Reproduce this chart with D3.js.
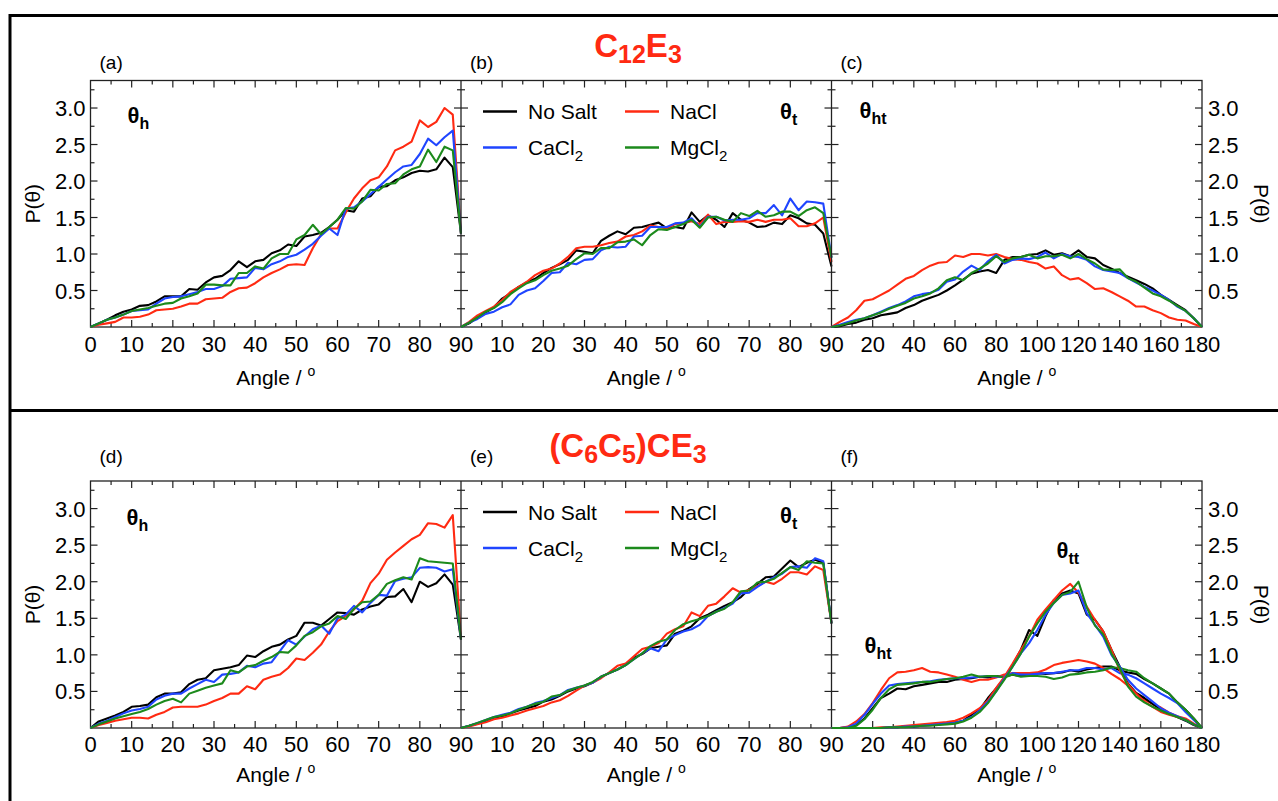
<!DOCTYPE html>
<html>
<head>
<meta charset="utf-8">
<script src="https://cdn.jsdelivr.net/npm/d3@7"></script>
<style>
  body { margin: 0; background: #fff; }
  svg { display: block; font-family: "Liberation Sans", Arial, Helvetica, sans-serif; }
</style>
</head>
<body>
<div id="chart"></div>
<script>
// ---- data ----
const seriesNames = ["No Salt", "NaCl", "CaCl2", "MgCl2"];
const seriesColors = ["#000000", "#ff2a12", "#1f45ff", "#1c8a1c"];

const angles90 = [0, 2, 4, 6, 8, 10, 12, 14, 16, 18, 20, 22, 24, 26, 28, 30, 32, 34, 36, 38, 40, 42, 44, 46, 48, 50, 52, 54, 56, 58, 60, 62, 64, 66, 68, 70, 72, 74, 76, 78, 80, 82, 84, 86, 88, 90];
const angles180 = [0, 4, 8, 12, 16, 20, 24, 28, 32, 36, 40, 44, 48, 52, 56, 60, 64, 68, 72, 76, 80, 84, 88, 92, 96, 100, 104, 108, 112, 116, 120, 124, 128, 132, 136, 140, 144, 148, 152, 156, 160, 164, 168, 172, 176, 180];

const yLabelTicks = [0.5, 1.0, 1.5, 2.0, 2.5, 3.0];
const xLabelsFirst = [0, 10, 20, 30, 40, 50, 60, 70, 80, 90];
const xLabelsSecond = [10, 20, 30, 40, 50, 60, 70, 80, 90];
const xLabelsWide = [20, 40, 60, 80, 100, 120, 140, 160, 180];

// (a) C12E3, theta_h
const aNoSalt = [0, .05, .10, .16, .21, .24, .29, .30, .35, .42, .42, .42, .52, .51, .61, .68, .70, .78, .90, .82, .90, .92, 1.01, 1.05, 1.13, 1.11, 1.24, 1.26, 1.29, 1.37, 1.47, 1.60, 1.58, 1.76, 1.79, 1.92, 1.93, 2.01, 2.05, 2.11, 2.14, 2.13, 2.16, 2.32, 2.19, 1.28];
const aNaCl = [0, .03, .05, .07, .13, .13, .14, .17, .23, .24, .25, .28, .32, .32, .38, .39, .40, .48, .53, .54, .60, .68, .74, .79, .85, .86, .85, 1.08, 1.27, 1.35, 1.35, 1.57, 1.76, 1.90, 2.01, 2.05, 2.20, 2.42, 2.47, 2.54, 2.83, 2.74, 2.81, 3.00, 2.91, 1.28];
const aCaCl2 = [0, .05, .10, .13, .17, .22, .23, .24, .32, .39, .41, .42, .45, .48, .52, .52, .56, .66, .67, .68, .81, .79, .86, .90, .96, .99, 1.06, 1.14, 1.25, 1.35, 1.26, 1.62, 1.64, 1.72, 1.82, 1.92, 2.02, 2.12, 2.20, 2.22, 2.37, 2.58, 2.49, 2.60, 2.69, 1.28];
const aMgCl2 = [0, .05, .10, .13, .17, .22, .24, .26, .29, .32, .33, .39, .42, .46, .58, .58, .57, .57, .74, .74, .83, .80, .94, 1.00, 1.00, 1.20, 1.26, 1.40, 1.27, 1.37, 1.47, 1.63, 1.62, 1.72, 1.88, 1.87, 1.96, 1.97, 2.09, 2.16, 2.20, 2.43, 2.26, 2.47, 2.42, 1.28];

// (b) C12E3, theta_t
const bNoSalt = [0, .05, .13, .20, .27, .39, .46, .55, .61, .66, .74, .81, .86, .92, 1.05, 1.03, 1.01, 1.18, 1.25, 1.31, 1.27, 1.36, 1.37, 1.40, 1.43, 1.35, 1.37, 1.35, 1.57, 1.44, 1.53, 1.47, 1.37, 1.56, 1.47, 1.43, 1.37, 1.38, 1.43, 1.41, 1.53, 1.49, 1.42, 1.40, 1.28, .83];
const bNaCl = [0, .07, .16, .22, .28, .37, .48, .55, .62, .71, .77, .80, .87, .96, 1.08, 1.10, 1.10, 1.12, 1.15, 1.17, 1.24, 1.26, 1.31, 1.39, 1.37, 1.35, 1.41, 1.42, 1.45, 1.41, 1.54, 1.41, 1.44, 1.44, 1.45, 1.44, 1.47, 1.44, 1.47, 1.47, 1.49, 1.38, 1.38, 1.42, 1.50, .89];
const bCaCl2 = [0, .06, .11, .18, .21, .27, .31, .44, .50, .53, .63, .74, .75, .88, .86, .92, .93, 1.05, 1.10, 1.09, 1.10, 1.24, 1.25, 1.37, 1.37, 1.37, 1.42, 1.43, 1.49, 1.37, 1.51, 1.51, 1.46, 1.47, 1.47, 1.49, 1.56, 1.56, 1.67, 1.53, 1.76, 1.60, 1.72, 1.71, 1.69, .95];
const bMgCl2 = [0, .06, .13, .21, .26, .34, .45, .53, .60, .64, .71, .77, .80, .84, .93, 1.01, 1.00, 1.08, 1.08, 1.16, 1.17, 1.20, 1.12, 1.26, 1.34, 1.33, 1.37, 1.41, 1.47, 1.36, 1.50, 1.51, 1.47, 1.44, 1.56, 1.52, 1.59, 1.51, 1.53, 1.58, 1.58, 1.52, 1.60, 1.64, 1.56, .95];

// (c) C12E3, theta_ht
const cNoSalt = [0, .01, .04, .06, .10, .12, .16, .18, .20, .26, .30, .36, .40, .44, .50, .57, .65, .73, .76, .78, .74, .92, .96, .96, .99, 1.00, 1.05, .99, 1.01, .97, 1.05, .96, .94, .85, .80, .74, .69, .64, .59, .53, .44, .37, .30, .23, .12, 0];
const cNaCl = [0, .07, .13, .23, .36, .38, .44, .50, .58, .66, .70, .78, .84, .88, .89, .98, .96, 1.00, 1.00, .98, 1.00, .96, .93, .92, .89, .87, .80, .83, .71, .65, .67, .60, .52, .53, .48, .42, .36, .28, .28, .23, .19, .13, .10, .09, .04, 0];
const cCaCl2 = [0, .03, .07, .10, .12, .16, .21, .26, .30, .35, .42, .45, .47, .51, .62, .65, .76, .84, .78, .90, .99, .87, .92, .94, .93, .96, 1.02, .94, 1.00, .97, .96, .92, .83, .78, .76, .74, .67, .61, .55, .50, .44, .37, .28, .22, .12, 0];
const cMgCl2 = [0, .02, .05, .09, .12, .16, .20, .25, .29, .33, .39, .42, .46, .53, .64, .68, .64, .74, .80, .87, .97, .89, .94, .96, .99, .94, .97, .97, .99, .94, 1.00, .93, .87, .79, .78, .79, .67, .62, .54, .46, .42, .36, .29, .22, .12, 0];

// (d) (C6C5)CE3, theta_h
const dNoSalt = [0, .09, .13, .17, .22, .29, .30, .32, .42, .47, .47, .49, .60, .66, .68, .79, .81, .83, .86, .99, .97, 1.05, 1.11, 1.14, 1.21, 1.26, 1.44, 1.44, 1.40, 1.49, 1.58, 1.57, 1.55, 1.62, 1.66, 1.69, 1.79, 1.80, 1.90, 1.72, 2.00, 1.93, 1.98, 2.10, 1.96, 1.21];
const dNaCl = [0, .04, .07, .10, .12, .14, .14, .13, .18, .22, .28, .29, .29, .29, .32, .37, .41, .47, .47, .57, .53, .66, .70, .73, .82, .95, .93, 1.03, 1.14, 1.32, 1.46, 1.53, 1.62, 1.74, 1.98, 2.11, 2.30, 2.40, 2.49, 2.58, 2.64, 2.80, 2.79, 2.74, 2.91, 1.21];
const dCaCl2 = [0, .06, .10, .15, .20, .24, .26, .29, .39, .44, .47, .47, .54, .60, .66, .63, .73, .74, .76, .85, .83, .88, .90, 1.05, 1.20, 1.14, 1.25, 1.35, 1.40, 1.29, 1.50, 1.55, 1.67, 1.58, 1.71, 1.82, 1.81, 2.01, 2.04, 2.06, 2.19, 2.20, 2.19, 2.14, 2.17, 1.21];
const dMgCl2 = [0, .05, .09, .13, .16, .19, .22, .26, .32, .37, .40, .35, .47, .51, .55, .58, .61, .79, .76, .84, .86, .92, .97, 1.04, 1.03, 1.13, 1.26, 1.31, 1.39, 1.43, 1.53, 1.49, 1.63, 1.72, 1.73, 1.82, 1.97, 2.02, 2.06, 2.03, 2.32, 2.28, 2.27, 2.26, 2.25, 1.21];

// (e) (C6C5)CE3, theta_t
const eNoSalt = [0, .03, .06, .10, .14, .16, .20, .24, .27, .30, .36, .39, .44, .50, .54, .57, .62, .70, .75, .80, .86, .96, 1.01, 1.09, 1.11, 1.13, 1.29, 1.33, 1.39, 1.50, 1.55, 1.61, 1.67, 1.72, 1.79, 1.90, 1.97, 2.06, 2.07, 2.18, 2.29, 2.20, 2.26, 2.30, 2.26, 1.43];
const eNaCl = [0, .02, .05, .08, .12, .14, .17, .20, .24, .27, .30, .35, .38, .44, .51, .58, .62, .68, .76, .85, .88, .98, 1.08, 1.11, 1.16, 1.29, 1.35, 1.39, 1.58, 1.53, 1.67, 1.70, 1.80, 1.91, 1.85, 1.89, 1.94, 2.00, 1.97, 2.04, 2.13, 2.13, 2.10, 2.21, 2.16, 1.43];
const eCaCl2 = [0, .03, .07, .11, .15, .18, .21, .26, .29, .34, .37, .41, .45, .52, .55, .58, .62, .70, .75, .80, .86, .94, 1.02, 1.09, 1.05, 1.21, 1.27, 1.32, 1.35, 1.41, 1.53, 1.59, 1.64, 1.70, 1.84, 1.85, 1.93, 2.00, 2.06, 2.11, 2.20, 2.21, 2.19, 2.32, 2.28, 1.43];
const eMgCl2 = [0, .03, .07, .11, .15, .17, .20, .25, .29, .33, .36, .43, .45, .51, .55, .58, .63, .70, .75, .80, .86, .94, 1.02, 1.12, 1.18, 1.21, 1.34, 1.42, 1.46, 1.49, 1.53, 1.59, 1.63, 1.72, 1.87, 1.88, 1.99, 2.00, 2.04, 2.12, 2.20, 2.16, 2.28, 2.26, 2.25, 1.43];

// (f) (C6C5)CE3, theta_ht and theta_tt
const fHtNoSalt = [0, 0, .01, .04, .13, .27, .41, .47, .54, .53, .57, .59, .61, .63, .63, .66, .67, .68, .70, .69, .71, .70, .73, .71, .74, .75, .74, .75, .76, .79, .77, .80, .82, .84, .84, .79, .76, .74, .67, .61, .54, .47, .35, .25, .13, 0];
const fHtNaCl = [0, 0, .02, .09, .19, .34, .52, .68, .76, .77, .79, .82, .77, .76, .73, .70, .66, .63, .66, .66, .69, .73, .75, .75, .75, .76, .80, .86, .89, .91, .93, .91, .88, .82, .74, .67, .58, .47, .39, .33, .28, .21, .16, .13, .06, 0];
const fHtCaCl2 = [0, 0, .01, .06, .18, .33, .47, .58, .60, .61, .62, .63, .64, .66, .67, .68, .68, .69, .70, .71, .70, .70, .75, .73, .73, .74, .75, .75, .77, .79, .79, .82, .82, .80, .82, .75, .73, .68, .61, .54, .47, .41, .34, .22, .11, 0];
const fHtMgCl2 = [0, 0, 0, .03, .12, .25, .41, .53, .59, .60, .61, .63, .63, .65, .67, .68, .70, .73, .70, .71, .71, .69, .73, .70, .71, .71, .70, .67, .69, .73, .74, .76, .77, .79, .83, .82, .79, .77, .68, .61, .54, .47, .35, .25, .13, 0];
const fTtNoSalt = [0, 0, 0, 0, 0, 0, 0, .01, .01, .02, .02, .03, .04, .05, .07, .07, .10, .18, .25, .41, .54, .68, .86, 1.07, 1.34, 1.26, 1.53, 1.75, 1.84, 1.88, 1.84, 1.55, 1.48, 1.32, 1.07, .84, .61, .48, .41, .33, .25, .20, .15, .10, .04, 0];
const fTtNaCl = [0, 0, 0, 0, 0, 0, .01, .01, .02, .03, .04, .05, .06, .07, .08, .10, .14, .20, .27, .38, .55, .70, .88, 1.07, 1.25, 1.48, 1.62, 1.75, 1.88, 1.97, 1.85, 1.66, 1.48, 1.32, 1.07, .79, .60, .47, .36, .29, .22, .18, .15, .12, .05, 0];
const fTtCaCl2 = [0, 0, 0, 0, 0, 0, 0, .01, .01, .02, .02, .03, .04, .05, .06, .07, .10, .15, .24, .36, .50, .68, .84, 1.02, 1.16, 1.34, 1.55, 1.71, 1.82, 1.84, 1.88, 1.57, 1.41, 1.25, 1.00, .84, .66, .54, .45, .36, .27, .21, .16, .11, .05, 0];
const fTtMgCl2 = [0, 0, 0, 0, 0, 0, 0, .01, .01, .01, .02, .03, .03, .04, .05, .06, .09, .14, .22, .34, .50, .66, .84, 1.02, 1.25, 1.43, 1.59, 1.71, 1.82, 1.86, 2.00, 1.65, 1.40, 1.28, 1.02, .82, .57, .43, .35, .29, .24, .19, .15, .11, .05, 0];

// ---- layout ----
const width = 1278, height = 801;
const rows = [
  { top: 80.5, bottom: 327, title: ["C", "12", "E", "3"], titleX: 638, titleY: 57, tickY: 352, labelY: 385 },
  { top: 481, bottom: 728, title: ["(C", "6", "C", "5", ")CE", "3"], titleX: 628, titleY: 457, tickY: 752, labelY: 782 }
];
const cols = [
  { left: 90.5, right: 461 },
  { left: 461, right: 831.5 },
  { left: 831.5, right: 1202 }
];
const yMax = 3.377;
const tickFont = 22;

const panels = [
  { tag: "(a)", row: 0, col: 0, xMax: 90, step: 5, major: 10, xLabels: xLabelsFirst, angles: angles90,
    series: [aNoSalt, aNaCl, aCaCl2, aMgCl2], marks: [{ t: "h", dx: 37, dy: 42 }] },
  { tag: "(b)", row: 0, col: 1, xMax: 90, step: 5, major: 10, xLabels: xLabelsSecond, angles: angles90,
    series: [bNoSalt, bNaCl, bCaCl2, bMgCl2], marks: [{ t: "t", dx: 319, dy: 38 }], legend: true },
  { tag: "(c)", row: 0, col: 2, xMax: 180, step: 10, major: 20, xLabels: xLabelsWide, angles: angles180,
    series: [cNoSalt, cNaCl, cCaCl2, cMgCl2], marks: [{ t: "ht", dx: 28, dy: 37 }], rightAxis: true },
  { tag: "(d)", row: 1, col: 0, xMax: 90, step: 5, major: 10, xLabels: xLabelsFirst, angles: angles90,
    series: [dNoSalt, dNaCl, dCaCl2, dMgCl2], marks: [{ t: "h", dx: 36, dy: 44 }] },
  { tag: "(e)", row: 1, col: 1, xMax: 90, step: 5, major: 10, xLabels: xLabelsSecond, angles: angles90,
    series: [eNoSalt, eNaCl, eCaCl2, eMgCl2], marks: [{ t: "t", dx: 319, dy: 42 }], legend: true },
  { tag: "(f)", row: 1, col: 2, xMax: 180, step: 10, major: 20, xLabels: xLabelsWide, angles: angles180,
    series: [fHtNoSalt, fHtNaCl, fHtCaCl2, fHtMgCl2, fTtNoSalt, fTtNaCl, fTtCaCl2, fTtMgCl2],
    marks: [{ t: "tt", dx: 225, dy: 77 }, { t: "ht", dx: 33, dy: 172 }], rightAxis: true }
];

const svg = d3.select("#chart")
  .append("svg")
    .attr("width", width)
    .attr("height", height);

svg.append("rect").attr("width", width).attr("height", height).attr("fill", "#fff");

// outer boxes
svg.append("path")
  .attr("d", "M10,15.5H1278M10,14V801M10,410.5H1278")
  .attr("fill", "none")
  .attr("stroke", "#000")
  .attr("stroke-width", 3);

// row titles, frames, axis labels
rows.forEach(r => {
  const t = svg.append("text")
    .attr("x", r.titleX)
    .attr("y", r.titleY)
    .attr("text-anchor", "middle")
    .attr("fill", "#ff2a12")
    .attr("font-weight", "bold")
    .attr("font-size", 33);
  r.title.forEach((s, i) => {
    const sub = i % 2 === 1;
    t.append("tspan")
      .attr("font-size", sub ? 25 : 33)
      .attr("dy", i === 0 ? 0 : (sub ? 6 : -6))
      .text(s);
  });

  svg.append("rect")
    .attr("x", cols[0].left)
    .attr("y", r.top)
    .attr("width", cols[2].right - cols[0].left)
    .attr("height", r.bottom - r.top)
    .attr("fill", "none")
    .attr("stroke", "#222")
    .attr("stroke-width", 1.3);

  const mid = (r.top + r.bottom) / 2;
  svg.append("text")
    .attr("transform", `translate(40,${mid}) rotate(-90)`)
    .attr("text-anchor", "middle")
    .attr("font-size", 21)
    .text("P(θ)");
  svg.append("text")
    .attr("transform", `translate(1254,${mid}) rotate(90)`)
    .attr("text-anchor", "middle")
    .attr("font-size", 21)
    .text("P(θ)");
});

panels.forEach(p => {
  const r = rows[p.row], c = cols[p.col];
  const x = d3.scaleLinear().domain([0, p.xMax]).range([c.left, c.right]);
  const y = d3.scaleLinear().domain([0, yMax]).range([r.bottom, r.top]);
  const g = svg.append("g");

  // divider between panels
  if (p.col > 0) {
    g.append("line")
      .attr("x1", c.left).attr("x2", c.left)
      .attr("y1", r.top).attr("y2", r.bottom)
      .attr("stroke", "#222").attr("stroke-width", 1.3);
  }

  // x ticks (top and bottom, inward)
  const xt = d3.range(p.step, p.xMax, p.step);
  xt.forEach(v => {
    const len = v % p.major === 0 ? 7 : 4;
    g.append("line")
      .attr("x1", x(v)).attr("x2", x(v))
      .attr("y1", r.bottom).attr("y2", r.bottom - len)
      .attr("stroke", "#222").attr("stroke-width", 1.2);
    g.append("line")
      .attr("x1", x(v)).attr("x2", x(v))
      .attr("y1", r.top).attr("y2", r.top + len)
      .attr("stroke", "#222").attr("stroke-width", 1.2);
  });

  // y ticks (left and right, inward)
  const yt = d3.range(0.25, 3.3, 0.25);
  yt.forEach(v => {
    const len = Math.abs(v * 2 - Math.round(v * 2)) < 1e-6 ? 7 : 4;
    g.append("line")
      .attr("x1", c.left).attr("x2", c.left + len)
      .attr("y1", y(v)).attr("y2", y(v))
      .attr("stroke", "#222").attr("stroke-width", 1.2);
    g.append("line")
      .attr("x1", c.right).attr("x2", c.right - len)
      .attr("y1", y(v)).attr("y2", y(v))
      .attr("stroke", "#222").attr("stroke-width", 1.2);
  });

  // x tick labels
  g.selectAll(".xl")
    .data(p.xLabels)
    .enter()
    .append("text")
    .attr("x", d => x(d))
    .attr("y", r.tickY)
    .attr("text-anchor", "middle")
    .attr("font-size", tickFont)
    .text(d => d);

  // y tick labels
  if (p.col === 0 || p.rightAxis) {
    g.selectAll(".yl")
      .data(yLabelTicks)
      .enter()
      .append("text")
      .attr("x", p.col === 0 ? c.left - 5 : c.right + 6)
      .attr("y", d => y(d) + 8)
      .attr("text-anchor", p.col === 0 ? "end" : "start")
      .attr("font-size", tickFont)
      .text(d => d.toFixed(1));
  }

  // axis label
  const al = g.append("text")
    .attr("x", (c.left + c.right) / 2)
    .attr("y", r.labelY)
    .attr("text-anchor", "middle")
    .attr("font-size", 21);
  al.append("tspan").text("Angle / ");
  al.append("tspan").attr("font-size", 14).attr("dy", -9).text("o");

  // panel tag
  g.append("text")
    .attr("x", c.left + 9)
    .attr("y", p.row === 0 ? 69 : 463)
    .attr("font-size", 19)
    .text(p.tag);

  // curves
  const line = d3.line()
    .x((d, i) => x(p.angles[i]))
    .y(d => y(d));

  g.selectAll(".curve")
    .data(p.series)
    .enter()
    .append("path")
    .attr("class", "curve")
    .attr("d", d => line(d))
    .attr("fill", "none")
    .attr("stroke", (d, i) => seriesColors[i % 4])
    .attr("stroke-width", 2.1)
    .attr("stroke-linejoin", "round");

  // theta labels
  p.marks.forEach(m => {
    const t = g.append("text")
      .attr("x", c.left + m.dx)
      .attr("y", r.top + m.dy)
      .attr("font-weight", "bold")
      .attr("font-size", 22);
    t.append("tspan").text("θ");
    t.append("tspan").attr("font-size", 16).attr("dy", 6).text(m.t);
  });

  // legend
  if (p.legend) {
    seriesNames.forEach((name, i) => {
      const lx = c.left + 22 + (i % 2) * 142;
      const ly = r.top + 31 + Math.floor(i / 2) * 36;
      g.append("line")
        .attr("x1", lx).attr("x2", lx + 34)
        .attr("y1", ly).attr("y2", ly)
        .attr("stroke", seriesColors[i])
        .attr("stroke-width", 2.5);
      const lt = g.append("text")
        .attr("x", lx + 45)
        .attr("y", ly + 7.5)
        .attr("font-size", 21);
      if (name.endsWith("2")) {
        lt.append("tspan").text(name.slice(0, -1));
        lt.append("tspan").attr("font-size", 15).attr("dy", 6).text("2");
      } else {
        lt.text(name);
      }
    });
  }
});
</script>
</body>
</html>
